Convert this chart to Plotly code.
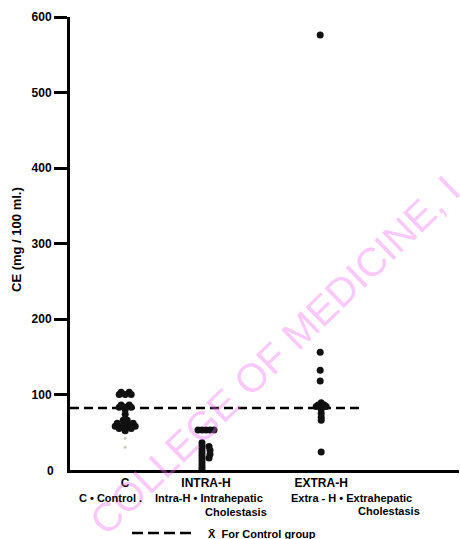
import plotly.graph_objects as go

# ---------------- data ----------------
groups = ["C", "INTRA-H", "EXTRA-H"]
group_pos = [0.69, 1.70, 3.14]          # x-axis position of each group

# Control group (mg/100 ml)
c_vals = [103, 103, 100, 100, 100,
          86, 86, 83, 83, 83, 80, 74,
          66, 66, 62, 62, 62, 58, 58, 58, 58, 55, 55, 55, 52]
c_jit = [-4, 4, -6, 0, 6,
         -4, 4, -6, 0, 6, 0, 0,
         -2, 2, -8, 0, 8, -10, -3, 3, 10, -6, 0, 6, 0]
c_faint_vals = [42, 30]

# Intrahepatic cholestasis
ih_vals = [53, 53, 53, 53, 53,
           36, 32, 28, 24, 20, 16, 12, 8, 4, 1,
           31, 26, 21, 16]
ih_jit = [-8, -4, 0, 4, 8,
          -4, -4, -4, -4, -4, -4, -4, -4, -4, -4,
          3, 4, 4, 3]

# Extrahepatic cholestasis
eh_vals = [576, 156, 132, 118,
           89, 86, 86, 84, 84,
           80, 75, 70, 66, 24]
eh_jit = [-1, -1, -1, -1,
          0, -3, 3, -5, 5,
          0, 0, 0, 0, 0]

control_mean = 82
y_ticks = [100, 200, 300, 400, 500, 600]

# ---------------- geometry helpers (pixels -> paper) ----------------
W, H = 460, 539
ML, MR, MT, MB = 70, 1, 17, 69
PW, PH = W - ML - MR, H - MT - MB
XR = [0, PW / 80.0]


def px(xp):
    return (xp - ML) / PW


def py(yp):
    return (H - MB - yp) / PH


def jx(pos, jit):
    return [pos + j / 80.0 for j in jit]


fig = go.Figure()

# control mean dashed line
fig.add_trace(go.Scatter(
    x=[0, 3.66], y=[control_mean, control_mean], mode="lines",
    line=dict(color="black", width=2.5, dash="9px,5px"),
    hoverinfo="skip", showlegend=False))

fig.add_trace(go.Scatter(x=jx(group_pos[0], c_jit), y=c_vals, mode="markers",
                         marker=dict(color="#111", size=7), showlegend=False))
fig.add_trace(go.Scatter(x=[group_pos[0]] * len(c_faint_vals), y=c_faint_vals,
                         mode="markers", marker=dict(color="#c8c8c0", size=3),
                         showlegend=False))
fig.add_trace(go.Scatter(x=jx(group_pos[1], ih_jit), y=ih_vals, mode="markers",
                         marker=dict(color="#111", size=7), showlegend=False))
fig.add_trace(go.Scatter(x=jx(group_pos[2], eh_jit), y=eh_vals, mode="markers",
                         marker=dict(color="#111", size=7), showlegend=False))

bold = "Liberation Sans, Arial, sans-serif"

ann = []
# watermark (drawn first so it sits under the other texts)
ann.append(dict(text="COLLEGE OF MEDICINE, I", x=px(275), y=py(355), xref="paper",
                yref="paper", xanchor="center", yanchor="middle", showarrow=False,
                textangle=-44,
                font=dict(size=40, family="Liberation Sans, Arial",
                          color="rgba(245,110,245,0.40)")))
ann.append(dict(text="<b>0</b>", x=px(50), y=py(471), xref="paper", yref="paper",
                xanchor="center", yanchor="middle",
                showarrow=False, font=dict(size=12, color="black", family=bold)))
ann.append(dict(text="<b>CE (mg / 100 ml.)</b>", x=px(17), y=py(240), xref="paper",
                yref="paper", xanchor="center", yanchor="middle",
                showarrow=False, textangle=-90,
                font=dict(size=13, color="black", family=bold)))
small = dict(size=11, color="black", family=bold)
for t, xp, ypix in [
    ("<b>C • Control .</b>", 77, 498),
    ("<b>Intra-H • Intrahepatic</b>", 153, 498),
    ("<b>Cholestasis</b>", 203, 512),
    ("<b>Extra - H • Extrahepatic</b>", 289, 498),
    ("<b>Cholestasis</b>", 356, 511),
    ("<b>X̄  For Control group</b>", 206, 534),
]:
    ann.append(dict(text=t, x=px(xp), y=py(ypix), xref="paper", yref="paper",
                    xanchor="left", yanchor="middle", showarrow=False, font=small))

fig.update_layout(
    width=W, height=H, margin=dict(l=ML, r=MR, t=MT, b=MB),
    paper_bgcolor="white", plot_bgcolor="white",
    annotations=ann,
    shapes=[dict(type="line", xref="paper", yref="paper",
                 x0=px(132), x1=px(193), y0=py(533), y1=py(533),
                 line=dict(color="black", width=2.5, dash="11px,5px"))],
    xaxis=dict(range=XR, showgrid=False, zeroline=False, showline=True, mirror=False,
               linecolor="black", linewidth=3, ticks="",
               tickvals=group_pos, ticktext=["<b>%s</b>" % g for g in groups],
               tickfont=dict(size=12, color="black", family=bold)),
    yaxis=dict(range=[0, 600], showgrid=False, zeroline=False, showline=True, mirror=False,
               linecolor="black", linewidth=3, ticks="outside", ticklen=13,
               tickwidth=3, tickcolor="black", tickvals=y_ticks,
               ticktext=["<b>%d</b>" % v for v in y_ticks],
               tickfont=dict(size=12, color="black", family=bold)),
)

fig.write_html("out.html")
